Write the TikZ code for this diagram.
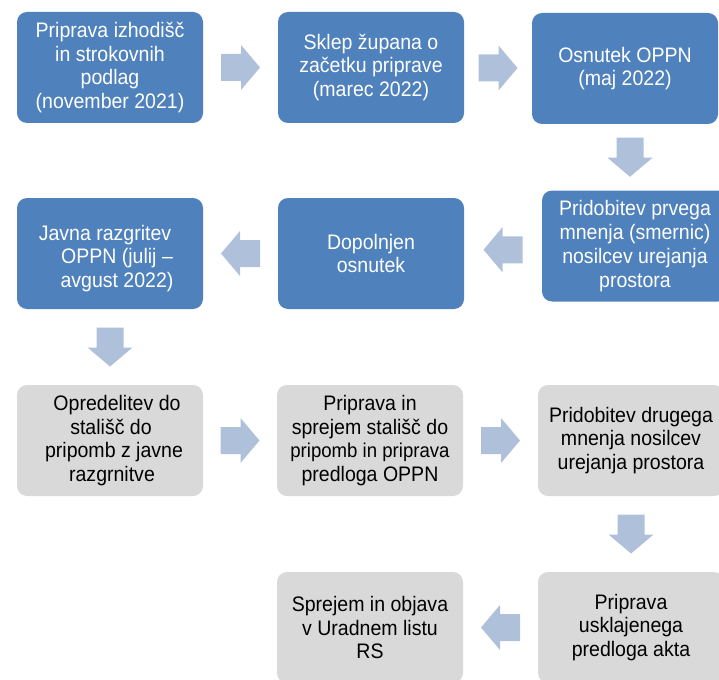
\documentclass[tikz,border=0pt]{standalone}
\usepackage{fontspec}
\setmainfont{Liberation Sans}[FakeStretch=0.93]
\usetikzlibrary{calc}
\definecolor{boxblue}{HTML}{4F81BD}
\definecolor{boxgray}{HTML}{D9D9D9}
\definecolor{arrowblue}{HTML}{AFC0DA}
\tikzset{
  box/.style={rounded corners=10pt, minimum width=186pt, minimum height=111pt, inner sep=0pt, align=center, font=\fontsize{21}{23.8}\selectfont},
  bluebox/.style={box, fill=boxblue, text=white},
  graybox/.style={box, fill=boxgray, text=black},
  barrow/.pic={\fill[arrowblue] (-19.5,-13.5) -- (0.5,-13.5) -- (0.5,-22.5) -- (19.5,0) -- (0.5,22.5) -- (0.5,13.5) -- (-19.5,13.5) -- cycle;}
}
\begin{document}
\begin{tikzpicture}[x=1pt,y=-1pt]
\useasboundingbox (0,0) rectangle (719,679);
\clip (0,0) rectangle (719,679);
% row 1
\node[bluebox] (b1) at (110,67.5) {Priprava izhodišč\\in strokovnih\\podlag\\(november 2021)};
\node[bluebox] (b2) at (371,67.5) {Sklep župana o\\začetku priprave\\(marec 2022)};
\node[bluebox] (b3) at (625,68.5) {Osnutek OPPN\\(maj 2022)};
% row 2
\node[bluebox] (b4) at (635,246) {Pridobitev prvega\\mnenja (smernic)\\nosilcev urejanja\\prostora};
\node[bluebox] (b5) at (371,253.5) {Dopolnjen\\osnutek};
\node[bluebox] (b6) at (110,253.5) {\rule{0pt}{25pt}Javna razgritev\hspace*{10pt}\\\hspace*{14pt}OPPN (julij –\\\hspace*{14pt}avgust 2022)};
% row 3
\node[graybox] (b7) at (110,440.5) {\hspace*{14pt}Opredelitev do\\\hspace*{2pt}stališč do\\\hspace*{8pt}pripomb z javne\\\hspace*{4pt}razgrnitve};
\node[graybox] (b8) at (370,440.5) {Priprava in\\sprejem stališč do\\{\fontsize{20}{23.8}\selectfont pripomb in priprava}\\predloga OPPN};
\node[graybox] (b9) at (631,440.5) {Pridobitev drugega\\mnenja nosilcev\\urejanja prostora};
% row 4
\node[graybox] (b10) at (631,627.5) {Priprava\\usklajenega\\predloga akta};
\node[graybox] (b11) at (370,627.5) {Sprejem in objava\\v Uradnem listu\\RS};
% block arrows
\pic at ($(b1.east)!0.5!(b2.west)$) {barrow};
\pic at ($(b2.east)!0.5!(b3.west)$) {barrow};
\pic[rotate=-90] at ($(b3.south)!0.5!(b4.north)$) {barrow};
\pic[rotate=180] at ($(b4.west)!0.5!(b5.east)$) {barrow};
\pic[rotate=180] at ($(b5.west)!0.5!(b6.east)$) {barrow};
\pic[rotate=-90] at ($(b6.south)!0.5!(b7.north)$) {barrow};
\pic at ($(b7.east)!0.5!(b8.west)$) {barrow};
\pic at ($(b8.east)!0.5!(b9.west)$) {barrow};
\pic[rotate=-90] at ($(b9.south)!0.5!(b10.north)$) {barrow};
\pic[rotate=180] at ($(b10.west)!0.5!(b11.east)$) {barrow};
\end{tikzpicture}
\end{document}
